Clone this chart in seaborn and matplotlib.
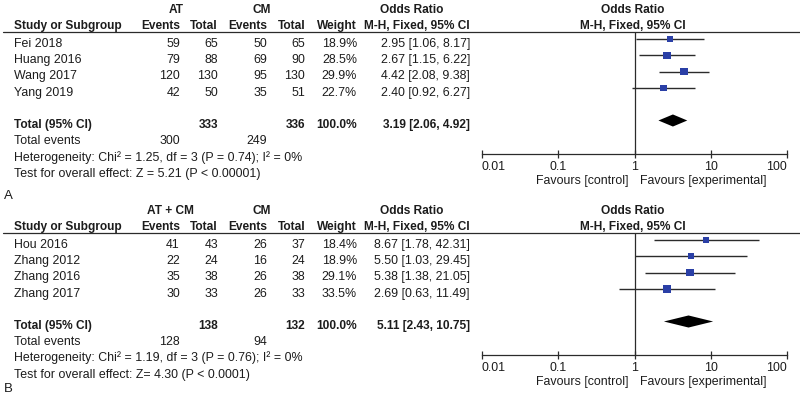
import numpy as np
import pandas as pd
import matplotlib
matplotlib.use("Agg")
import matplotlib.pyplot as plt
import seaborn as sns

sns.set_theme(style="white")
plt.rcParams['font.family'] = ['Liberation Sans', 'DejaVu Sans']

# ---------------- data ----------------
a_studies = ["Fei 2018", "Huang 2016", "Wang 2017", "Yang 2019"]
a_exp_events = [59, 79, 120, 42]
a_exp_total = [65, 88, 130, 50]
a_ctl_events = [50, 69, 95, 35]
a_ctl_total = [65, 90, 130, 51]
a_weight = [18.9, 28.5, 29.9, 22.7]
a_or = [2.95, 2.67, 4.42, 2.40]
a_lo = [1.06, 1.15, 2.08, 0.92]
a_hi = [8.17, 6.22, 9.38, 6.27]
a_total = dict(exp_n=333, ctl_n=336, or_=3.19, lo=2.06, hi=4.92, exp_ev=300, ctl_ev=249)
a_het = "Heterogeneity: Chi\u00b2 = 1.25, df = 3 (P = 0.74); I\u00b2 = 0%"
a_test = "Test for overall effect: Z = 5.21 (P < 0.00001)"

b_studies = ["Hou 2016", "Zhang 2012", "Zhang 2016", "Zhang 2017"]
b_exp_events = [41, 22, 35, 30]
b_exp_total = [43, 24, 38, 33]
b_ctl_events = [26, 16, 26, 26]
b_ctl_total = [37, 24, 38, 33]
b_weight = [18.4, 18.9, 29.1, 33.5]
b_or = [8.67, 5.50, 5.38, 2.69]
b_lo = [1.78, 1.03, 1.38, 0.63]
b_hi = [42.31, 29.45, 21.05, 11.49]
b_total = dict(exp_n=138, ctl_n=132, or_=5.11, lo=2.43, hi=10.75, exp_ev=128, ctl_ev=94)
b_het = "Heterogeneity: Chi\u00b2 = 1.19, df = 3 (P = 0.76); I\u00b2 = 0%"
b_test = "Test for overall effect: Z= 4.30 (P < 0.0001)"

tick_vals = [0.01, 0.1, 1, 10, 100]
tick_labels = ["0.01", "0.1", "1", "10", "100"]

panels = [
    dict(label="A", exp_name="AT", studies=a_studies, ee=a_exp_events, et=a_exp_total,
         ce=a_ctl_events, ct=a_ctl_total, w=a_weight, or_=a_or, lo=a_lo, hi=a_hi,
         tot=a_total, het=a_het, test=a_test, exp_cx=176),
    dict(label="B", exp_name="AT + CM", studies=b_studies, ee=b_exp_events, et=b_exp_total,
         ce=b_ctl_events, ct=b_ctl_total, w=b_weight, or_=b_or, lo=b_lo, hi=b_hi,
         tot=b_total, het=b_het, test=b_test, exp_cx=170),
]

# ---------------- figure ----------------
W, H = 800, 395
fig = plt.figure(figsize=(W / 100, H / 100), dpi=100)
fig.patch.set_facecolor("white")
bg = fig.add_axes([0, 0, 1, 1])
bg.set_xlim(0, W)
bg.set_ylim(H, 0)
bg.axis("off")

TXT = "#1c1c1c"
LINE = "#2b2b2b"
BLUE = "#2a3fa6"
FSB = 8.6
FS = 8.9

def t(x, y, s, ha="left", bold=False, fs=None):
    if fs is None:
        fs = FSB if bold else FS
    bg.text(x, y, s, ha=ha, va="baseline", fontsize=fs, color=TXT,
            fontweight="bold" if bold else "normal")

col_ee, col_et, col_ce, col_ct, col_w, col_or = 180, 218, 267, 305, 357, 470
left = 14
step = 16.2

for p_i, p in enumerate(panels):
    off = 0 if p_i == 0 else 201
    # headers
    t(p["exp_cx"], 13 + off, p["exp_name"], ha="center", bold=True)
    t(262, 13 + off, "CM", ha="center", bold=True)
    t(412, 13 + off, "Odds Ratio", ha="center", bold=True)
    t(633, 13 + off, "Odds Ratio", ha="center", bold=True)
    t(left, 29 + off, "Study or Subgroup", bold=True)
    t(col_ee, 29 + off, "Events", ha="right", bold=True)
    t(col_et, 29 + off, "Total", ha="right", bold=True)
    t(col_ce, 29 + off, "Events", ha="right", bold=True)
    t(col_ct, 29 + off, "Total", ha="right", bold=True)
    t(col_w, 29 + off, "Weight", ha="right", bold=True)
    t(col_or, 29 + off, "M-H, Fixed, 95% CI", ha="right", bold=True)
    t(633, 29 + off, "M-H, Fixed, 95% CI", ha="center", bold=True)
    bg.plot([3, 800], [31.5 + off, 31.5 + off], color=LINE, lw=0.9)

    # study rows
    for i, s in enumerate(p["studies"]):
        y = 47 + off + step * i
        t(left, y, s)
        t(col_ee, y, str(p["ee"][i]), ha="right")
        t(col_et, y, str(p["et"][i]), ha="right")
        t(col_ce, y, str(p["ce"][i]), ha="right")
        t(col_ct, y, str(p["ct"][i]), ha="right")
        t(col_w, y, f"{p['w'][i]:.1f}%", ha="right")
        t(col_or, y, f"{p['or_'][i]:.2f} [{p['lo'][i]:.2f}, {p['hi'][i]:.2f}]", ha="right")

    tot = p["tot"]
    y = 128 + off
    t(left, y, "Total (95% CI)", bold=True)
    t(col_et, y, str(tot["exp_n"]), ha="right", bold=True)
    t(col_ct, y, str(tot["ctl_n"]), ha="right", bold=True)
    t(col_w, y, "100.0%", ha="right", bold=True)
    t(col_or, y, f"{tot['or_']:.2f} [{tot['lo']:.2f}, {tot['hi']:.2f}]", ha="right", bold=True)
    y = 144 + off
    t(left, y, "Total events")
    t(col_ee, y, str(tot["exp_ev"]), ha="right")
    t(col_ce, y, str(tot["ctl_ev"]), ha="right")
    t(left, 160.5 + off, p["het"])
    t(left, 177 + off, p["test"])
    t(4, 199 + off if p_i == 0 else 392, p["label"], fs=9.5)

    # forest axes
    top_px = 31.5 + off
    bot_px = 154 + off
    row0 = 39 + off
    rstep = 16.3
    ax = fig.add_axes([482 / W, 1 - bot_px / H, 305 / W, (bot_px - top_px) / H])
    ax.set_facecolor("none")
    df = pd.DataFrame({"row": np.arange(len(p["studies"])), "or": p["or_"],
                       "lo": p["lo"], "hi": p["hi"], "w": p["w"]})
    ax.hlines(df["row"], df["lo"], df["hi"], color=LINE, lw=1.0, zorder=2)
    sns.scatterplot(data=df, x="or", y="row", size="w", sizes=(0, 36), size_norm=(0, 36),
                    marker="s", color=BLUE, edgecolor=BLUE, linewidth=0, legend=False,
                    ax=ax, zorder=3)
    dr = 5
    dh = 0.37
    ax.fill([tot["lo"], tot["or_"], tot["hi"], tot["or_"]],
            [dr, dr - dh, dr, dr + dh], color="black", lw=0, zorder=3)
    ax.axvline(1, color=LINE, lw=0.9, zorder=1)
    ax.set_xscale("log")
    ax.set_xlim(0.01, 100)
    ax.set_ylim((bot_px - row0) / rstep, (top_px - row0) / rstep)
    ax.set_xlabel("")
    ax.set_ylabel("")
    ax.set_yticks([])
    ax.set_xticks(tick_vals)
    ax.set_xticklabels(tick_labels)
    ax.minorticks_off()
    ax.tick_params(axis="x", direction="inout", length=6, width=0.9, color=LINE,
                   labelsize=FS, labelcolor=TXT, pad=1.8, bottom=True)
    for lab, ha in zip(ax.get_xticklabels(), ["left", "center", "center", "center", "right"]):
        lab.set_ha(ha)
    for sp in ["top", "left", "right"]:
        ax.spines[sp].set_visible(False)
    ax.spines["bottom"].set_color(LINE)
    ax.spines["bottom"].set_linewidth(0.9)
    ax.grid(False)

    t(628, 184 + off, "Favours [control]", ha="right")
    t(640, 184 + off, "Favours [experimental]", ha="left")

fig.savefig("out.png", dpi=100, facecolor="white")
